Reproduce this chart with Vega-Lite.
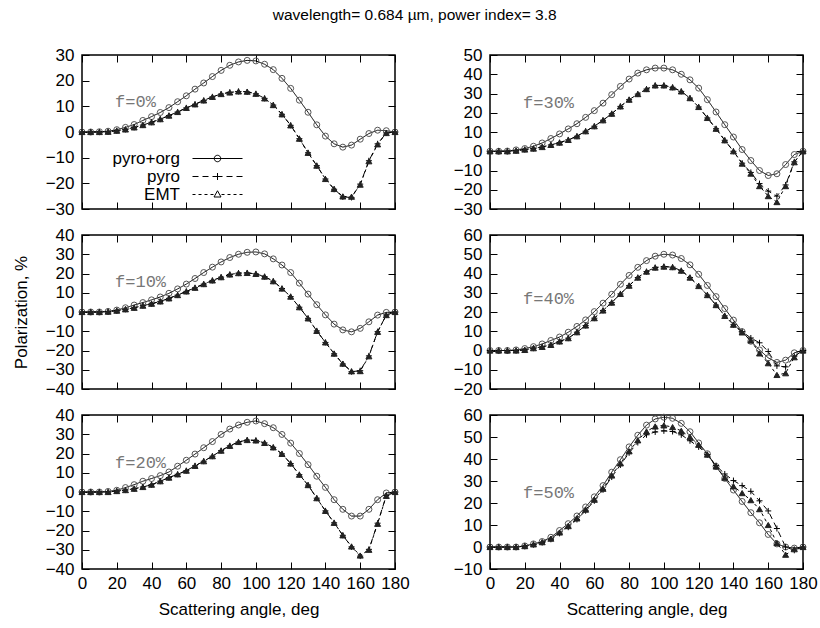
{
"$schema": "https://vega.github.io/schema/vega-lite/v6.json",
"padding": {"left": 11, "top": 7, "right": 5, "bottom": 5},
"title": {"text": "wavelength= 0.684 µm, power index= 3.8"},
"datasets": {
"lab": [{"f":0,"a":19,"v":11.6,"t":"f=0%"},{"f":10,"a":19,"v":15.4,"t":"f=10%"},{"f":20,"a":19,"v":15.3,"t":"f=20%"},{"f":30,"a":19,"v":24.9,"t":"f=30%"},{"f":40,"a":19,"v":27,"t":"f=40%"},{"f":50,"a":19,"v":24.7,"t":"f=50%"}],
"pol": [
{"f":0,"s":"o","a":0,"v":0},{"f":0,"s":"o","a":5,"v":0},{"f":0,"s":"o","a":10,"v":0.1},{"f":0,"s":"o","a":15,"v":0.3},{"f":0,"s":"o","a":20,"v":0.9},{"f":0,"s":"o","a":25,"v":1.8},{"f":0,"s":"o","a":30,"v":2.9},{"f":0,"s":"o","a":35,"v":4.5},{"f":0,"s":"o","a":40,"v":6.0},{"f":0,"s":"o","a":45,"v":7.6},{"f":0,"s":"o","a":50,"v":9.5},{"f":0,"s":"o","a":55,"v":11.8},{"f":0,"s":"o","a":60,"v":14.1},{"f":0,"s":"o","a":65,"v":16.7},{"f":0,"s":"o","a":70,"v":19.1},{"f":0,"s":"o","a":75,"v":21.6},{"f":0,"s":"o","a":80,"v":24.0},{"f":0,"s":"o","a":85,"v":26.0},{"f":0,"s":"o","a":90,"v":27.3},{"f":0,"s":"o","a":95,"v":27.9},{"f":0,"s":"o","a":100,"v":27.7},{"f":0,"s":"o","a":105,"v":26.4},{"f":0,"s":"o","a":110,"v":24.3},{"f":0,"s":"o","a":115,"v":20.9},{"f":0,"s":"o","a":120,"v":17.0},{"f":0,"s":"o","a":125,"v":12.4},{"f":0,"s":"o","a":130,"v":7.7},{"f":0,"s":"o","a":135,"v":2.8},{"f":0,"s":"o","a":140,"v":-1.6},{"f":0,"s":"o","a":145,"v":-4.6},{"f":0,"s":"o","a":150,"v":-5.9},{"f":0,"s":"o","a":155,"v":-5.1},{"f":0,"s":"o","a":160,"v":-2.8},{"f":0,"s":"o","a":165,"v":-0.6},{"f":0,"s":"o","a":170,"v":0.7},{"f":0,"s":"o","a":175,"v":0.5},{"f":0,"s":"o","a":180,"v":0},
{"f":0,"s":"p","a":0,"v":0},{"f":0,"s":"p","a":5,"v":0},{"f":0,"s":"p","a":10,"v":0},{"f":0,"s":"p","a":15,"v":0.1},{"f":0,"s":"p","a":20,"v":0.5},{"f":0,"s":"p","a":25,"v":1.0},{"f":0,"s":"p","a":30,"v":1.8},{"f":0,"s":"p","a":35,"v":2.7},{"f":0,"s":"p","a":40,"v":3.8},{"f":0,"s":"p","a":45,"v":5.0},{"f":0,"s":"p","a":50,"v":6.4},{"f":0,"s":"p","a":55,"v":7.8},{"f":0,"s":"p","a":60,"v":9.4},{"f":0,"s":"p","a":65,"v":10.8},{"f":0,"s":"p","a":70,"v":12.3},{"f":0,"s":"p","a":75,"v":13.7},{"f":0,"s":"p","a":80,"v":14.8},{"f":0,"s":"p","a":85,"v":15.5},{"f":0,"s":"p","a":90,"v":15.8},{"f":0,"s":"p","a":95,"v":15.6},{"f":0,"s":"p","a":100,"v":14.9},{"f":0,"s":"p","a":105,"v":13.1},{"f":0,"s":"p","a":110,"v":10.5},{"f":0,"s":"p","a":115,"v":6.9},{"f":0,"s":"p","a":120,"v":2.6},{"f":0,"s":"p","a":125,"v":-2.6},{"f":0,"s":"p","a":130,"v":-8.1},{"f":0,"s":"p","a":135,"v":-13.1},{"f":0,"s":"p","a":140,"v":-18.3},{"f":0,"s":"p","a":145,"v":-22.3},{"f":0,"s":"p","a":150,"v":-25.3},{"f":0,"s":"p","a":155,"v":-25.5},{"f":0,"s":"p","a":160,"v":-20.3},{"f":0,"s":"p","a":165,"v":-11.2},{"f":0,"s":"p","a":170,"v":-4.6},{"f":0,"s":"p","a":175,"v":-0.4},{"f":0,"s":"p","a":180,"v":0},
{"f":0,"s":"e","a":0,"v":0},{"f":0,"s":"e","a":5,"v":0},{"f":0,"s":"e","a":10,"v":0},{"f":0,"s":"e","a":15,"v":0.1},{"f":0,"s":"e","a":20,"v":0.5},{"f":0,"s":"e","a":25,"v":1.0},{"f":0,"s":"e","a":30,"v":1.8},{"f":0,"s":"e","a":35,"v":2.7},{"f":0,"s":"e","a":40,"v":3.8},{"f":0,"s":"e","a":45,"v":5.0},{"f":0,"s":"e","a":50,"v":6.4},{"f":0,"s":"e","a":55,"v":7.8},{"f":0,"s":"e","a":60,"v":9.4},{"f":0,"s":"e","a":65,"v":10.8},{"f":0,"s":"e","a":70,"v":12.3},{"f":0,"s":"e","a":75,"v":13.7},{"f":0,"s":"e","a":80,"v":14.8},{"f":0,"s":"e","a":85,"v":15.4},{"f":0,"s":"e","a":90,"v":15.8},{"f":0,"s":"e","a":95,"v":15.7},{"f":0,"s":"e","a":100,"v":14.9},{"f":0,"s":"e","a":105,"v":13.1},{"f":0,"s":"e","a":110,"v":10.5},{"f":0,"s":"e","a":115,"v":6.9},{"f":0,"s":"e","a":120,"v":2.6},{"f":0,"s":"e","a":125,"v":-2.6},{"f":0,"s":"e","a":130,"v":-8.1},{"f":0,"s":"e","a":135,"v":-13.1},{"f":0,"s":"e","a":140,"v":-18.3},{"f":0,"s":"e","a":145,"v":-22.2},{"f":0,"s":"e","a":150,"v":-25.1},{"f":0,"s":"e","a":155,"v":-25.2},{"f":0,"s":"e","a":160,"v":-20.5},{"f":0,"s":"e","a":165,"v":-11.4},{"f":0,"s":"e","a":170,"v":-4.8},{"f":0,"s":"e","a":175,"v":-0.4},{"f":0,"s":"e","a":180,"v":0},
{"f":10,"s":"o","a":0,"v":0},{"f":10,"s":"o","a":5,"v":0},{"f":10,"s":"o","a":10,"v":0},{"f":10,"s":"o","a":15,"v":0.3},{"f":10,"s":"o","a":20,"v":1.0},{"f":10,"s":"o","a":25,"v":2.2},{"f":10,"s":"o","a":30,"v":3.6},{"f":10,"s":"o","a":35,"v":4.9},{"f":10,"s":"o","a":40,"v":6.3},{"f":10,"s":"o","a":45,"v":7.8},{"f":10,"s":"o","a":50,"v":9.7},{"f":10,"s":"o","a":55,"v":12.0},{"f":10,"s":"o","a":60,"v":14.5},{"f":10,"s":"o","a":65,"v":17.4},{"f":10,"s":"o","a":70,"v":20.5},{"f":10,"s":"o","a":75,"v":23.3},{"f":10,"s":"o","a":80,"v":26.0},{"f":10,"s":"o","a":85,"v":28.3},{"f":10,"s":"o","a":90,"v":30.0},{"f":10,"s":"o","a":95,"v":31.0},{"f":10,"s":"o","a":100,"v":31.2},{"f":10,"s":"o","a":105,"v":30.2},{"f":10,"s":"o","a":110,"v":27.6},{"f":10,"s":"o","a":115,"v":24.4},{"f":10,"s":"o","a":120,"v":20.5},{"f":10,"s":"o","a":125,"v":15.0},{"f":10,"s":"o","a":130,"v":9.3},{"f":10,"s":"o","a":135,"v":3.8},{"f":10,"s":"o","a":140,"v":-1.5},{"f":10,"s":"o","a":145,"v":-6.3},{"f":10,"s":"o","a":150,"v":-9.3},{"f":10,"s":"o","a":155,"v":-10.3},{"f":10,"s":"o","a":160,"v":-8.5},{"f":10,"s":"o","a":165,"v":-5.1},{"f":10,"s":"o","a":170,"v":-1.6},{"f":10,"s":"o","a":175,"v":-0.2},{"f":10,"s":"o","a":180,"v":0},
{"f":10,"s":"p","a":0,"v":0},{"f":10,"s":"p","a":5,"v":0},{"f":10,"s":"p","a":10,"v":0},{"f":10,"s":"p","a":15,"v":0.2},{"f":10,"s":"p","a":20,"v":0.7},{"f":10,"s":"p","a":25,"v":1.4},{"f":10,"s":"p","a":30,"v":2.2},{"f":10,"s":"p","a":35,"v":3.3},{"f":10,"s":"p","a":40,"v":4.3},{"f":10,"s":"p","a":45,"v":5.5},{"f":10,"s":"p","a":50,"v":7.1},{"f":10,"s":"p","a":55,"v":8.8},{"f":10,"s":"p","a":60,"v":10.7},{"f":10,"s":"p","a":65,"v":12.6},{"f":10,"s":"p","a":70,"v":14.5},{"f":10,"s":"p","a":75,"v":16.4},{"f":10,"s":"p","a":80,"v":18.1},{"f":10,"s":"p","a":85,"v":19.5},{"f":10,"s":"p","a":90,"v":20.2},{"f":10,"s":"p","a":95,"v":20.3},{"f":10,"s":"p","a":100,"v":19.8},{"f":10,"s":"p","a":105,"v":18.4},{"f":10,"s":"p","a":110,"v":16.0},{"f":10,"s":"p","a":115,"v":12.2},{"f":10,"s":"p","a":120,"v":8.0},{"f":10,"s":"p","a":125,"v":2.5},{"f":10,"s":"p","a":130,"v":-3.3},{"f":10,"s":"p","a":135,"v":-9.8},{"f":10,"s":"p","a":140,"v":-15.8},{"f":10,"s":"p","a":145,"v":-21.7},{"f":10,"s":"p","a":150,"v":-27.0},{"f":10,"s":"p","a":155,"v":-31.0},{"f":10,"s":"p","a":160,"v":-30.5},{"f":10,"s":"p","a":165,"v":-22.8},{"f":10,"s":"p","a":170,"v":-10.2},{"f":10,"s":"p","a":175,"v":-1.6},{"f":10,"s":"p","a":180,"v":0},
{"f":10,"s":"e","a":0,"v":0},{"f":10,"s":"e","a":5,"v":0},{"f":10,"s":"e","a":10,"v":0},{"f":10,"s":"e","a":15,"v":0.2},{"f":10,"s":"e","a":20,"v":0.7},{"f":10,"s":"e","a":25,"v":1.4},{"f":10,"s":"e","a":30,"v":2.2},{"f":10,"s":"e","a":35,"v":3.3},{"f":10,"s":"e","a":40,"v":4.3},{"f":10,"s":"e","a":45,"v":5.5},{"f":10,"s":"e","a":50,"v":7.1},{"f":10,"s":"e","a":55,"v":8.8},{"f":10,"s":"e","a":60,"v":10.7},{"f":10,"s":"e","a":65,"v":12.6},{"f":10,"s":"e","a":70,"v":14.5},{"f":10,"s":"e","a":75,"v":16.4},{"f":10,"s":"e","a":80,"v":18.1},{"f":10,"s":"e","a":85,"v":19.5},{"f":10,"s":"e","a":90,"v":20.2},{"f":10,"s":"e","a":95,"v":20.3},{"f":10,"s":"e","a":100,"v":19.8},{"f":10,"s":"e","a":105,"v":18.4},{"f":10,"s":"e","a":110,"v":16.0},{"f":10,"s":"e","a":115,"v":12.2},{"f":10,"s":"e","a":120,"v":8.0},{"f":10,"s":"e","a":125,"v":2.5},{"f":10,"s":"e","a":130,"v":-3.3},{"f":10,"s":"e","a":135,"v":-9.8},{"f":10,"s":"e","a":140,"v":-15.8},{"f":10,"s":"e","a":145,"v":-21.6},{"f":10,"s":"e","a":150,"v":-26.8},{"f":10,"s":"e","a":155,"v":-30.8},{"f":10,"s":"e","a":160,"v":-30.7},{"f":10,"s":"e","a":165,"v":-23.0},{"f":10,"s":"e","a":170,"v":-10.3},{"f":10,"s":"e","a":175,"v":-1.6},{"f":10,"s":"e","a":180,"v":0},
{"f":20,"s":"o","a":0,"v":0},{"f":20,"s":"o","a":5,"v":0},{"f":20,"s":"o","a":10,"v":0},{"f":20,"s":"o","a":15,"v":0.3},{"f":20,"s":"o","a":20,"v":0.9},{"f":20,"s":"o","a":25,"v":2.3},{"f":20,"s":"o","a":30,"v":3.8},{"f":20,"s":"o","a":35,"v":5.6},{"f":20,"s":"o","a":40,"v":7.0},{"f":20,"s":"o","a":45,"v":8.5},{"f":20,"s":"o","a":50,"v":10.4},{"f":20,"s":"o","a":55,"v":13.4},{"f":20,"s":"o","a":60,"v":16.5},{"f":20,"s":"o","a":65,"v":19.7},{"f":20,"s":"o","a":70,"v":23.0},{"f":20,"s":"o","a":75,"v":26.2},{"f":20,"s":"o","a":80,"v":29.9},{"f":20,"s":"o","a":85,"v":32.7},{"f":20,"s":"o","a":90,"v":34.8},{"f":20,"s":"o","a":95,"v":36.2},{"f":20,"s":"o","a":100,"v":36.9},{"f":20,"s":"o","a":105,"v":35.5},{"f":20,"s":"o","a":110,"v":33.4},{"f":20,"s":"o","a":115,"v":29.9},{"f":20,"s":"o","a":120,"v":25.4},{"f":20,"s":"o","a":125,"v":20.0},{"f":20,"s":"o","a":130,"v":14.2},{"f":20,"s":"o","a":135,"v":8.2},{"f":20,"s":"o","a":140,"v":2.4},{"f":20,"s":"o","a":145,"v":-4.0},{"f":20,"s":"o","a":150,"v":-9.0},{"f":20,"s":"o","a":155,"v":-12.5},{"f":20,"s":"o","a":160,"v":-12.5},{"f":20,"s":"o","a":165,"v":-9.0},{"f":20,"s":"o","a":170,"v":-4.0},{"f":20,"s":"o","a":175,"v":-0.5},{"f":20,"s":"o","a":180,"v":0},
{"f":20,"s":"p","a":0,"v":0},{"f":20,"s":"p","a":5,"v":0},{"f":20,"s":"p","a":10,"v":0},{"f":20,"s":"p","a":15,"v":0},{"f":20,"s":"p","a":20,"v":0.5},{"f":20,"s":"p","a":25,"v":1.0},{"f":20,"s":"p","a":30,"v":1.7},{"f":20,"s":"p","a":35,"v":2.6},{"f":20,"s":"p","a":40,"v":3.8},{"f":20,"s":"p","a":45,"v":5.6},{"f":20,"s":"p","a":50,"v":7.5},{"f":20,"s":"p","a":55,"v":9.2},{"f":20,"s":"p","a":60,"v":11.1},{"f":20,"s":"p","a":65,"v":13.6},{"f":20,"s":"p","a":70,"v":16.0},{"f":20,"s":"p","a":75,"v":18.6},{"f":20,"s":"p","a":80,"v":21.5},{"f":20,"s":"p","a":85,"v":24.0},{"f":20,"s":"p","a":90,"v":26.0},{"f":20,"s":"p","a":95,"v":27.0},{"f":20,"s":"p","a":100,"v":26.8},{"f":20,"s":"p","a":105,"v":25.5},{"f":20,"s":"p","a":110,"v":23.2},{"f":20,"s":"p","a":115,"v":19.8},{"f":20,"s":"p","a":120,"v":14.8},{"f":20,"s":"p","a":125,"v":9.0},{"f":20,"s":"p","a":130,"v":3.6},{"f":20,"s":"p","a":135,"v":-3.2},{"f":20,"s":"p","a":140,"v":-9.8},{"f":20,"s":"p","a":145,"v":-16.0},{"f":20,"s":"p","a":150,"v":-22.5},{"f":20,"s":"p","a":155,"v":-28.5},{"f":20,"s":"p","a":160,"v":-33.3},{"f":20,"s":"p","a":165,"v":-29.8},{"f":20,"s":"p","a":170,"v":-16.2},{"f":20,"s":"p","a":175,"v":-1.8},{"f":20,"s":"p","a":180,"v":0},
{"f":20,"s":"e","a":0,"v":0},{"f":20,"s":"e","a":5,"v":0},{"f":20,"s":"e","a":10,"v":0},{"f":20,"s":"e","a":15,"v":0},{"f":20,"s":"e","a":20,"v":0.5},{"f":20,"s":"e","a":25,"v":1.0},{"f":20,"s":"e","a":30,"v":1.7},{"f":20,"s":"e","a":35,"v":2.6},{"f":20,"s":"e","a":40,"v":3.8},{"f":20,"s":"e","a":45,"v":5.6},{"f":20,"s":"e","a":50,"v":7.5},{"f":20,"s":"e","a":55,"v":9.2},{"f":20,"s":"e","a":60,"v":11.1},{"f":20,"s":"e","a":65,"v":13.6},{"f":20,"s":"e","a":70,"v":16.0},{"f":20,"s":"e","a":75,"v":18.6},{"f":20,"s":"e","a":80,"v":21.5},{"f":20,"s":"e","a":85,"v":24.0},{"f":20,"s":"e","a":90,"v":26.0},{"f":20,"s":"e","a":95,"v":27.0},{"f":20,"s":"e","a":100,"v":26.8},{"f":20,"s":"e","a":105,"v":25.5},{"f":20,"s":"e","a":110,"v":23.2},{"f":20,"s":"e","a":115,"v":19.8},{"f":20,"s":"e","a":120,"v":14.8},{"f":20,"s":"e","a":125,"v":9.0},{"f":20,"s":"e","a":130,"v":3.6},{"f":20,"s":"e","a":135,"v":-3.2},{"f":20,"s":"e","a":140,"v":-9.8},{"f":20,"s":"e","a":145,"v":-16.0},{"f":20,"s":"e","a":150,"v":-22.5},{"f":20,"s":"e","a":155,"v":-28.3},{"f":20,"s":"e","a":160,"v":-33.0},{"f":20,"s":"e","a":165,"v":-30.0},{"f":20,"s":"e","a":170,"v":-16.5},{"f":20,"s":"e","a":175,"v":-2.0},{"f":20,"s":"e","a":180,"v":0},
{"f":30,"s":"o","a":0,"v":0},{"f":30,"s":"o","a":5,"v":0},{"f":30,"s":"o","a":10,"v":0.1},{"f":30,"s":"o","a":15,"v":0.7},{"f":30,"s":"o","a":20,"v":1.4},{"f":30,"s":"o","a":25,"v":2.6},{"f":30,"s":"o","a":30,"v":4.3},{"f":30,"s":"o","a":35,"v":6.6},{"f":30,"s":"o","a":40,"v":9.0},{"f":30,"s":"o","a":45,"v":11.6},{"f":30,"s":"o","a":50,"v":14.3},{"f":30,"s":"o","a":55,"v":17.6},{"f":30,"s":"o","a":60,"v":21.1},{"f":30,"s":"o","a":65,"v":25.0},{"f":30,"s":"o","a":70,"v":29.4},{"f":30,"s":"o","a":75,"v":33.7},{"f":30,"s":"o","a":80,"v":37.5},{"f":30,"s":"o","a":85,"v":40.6},{"f":30,"s":"o","a":90,"v":42.3},{"f":30,"s":"o","a":95,"v":43.2},{"f":30,"s":"o","a":100,"v":43.2},{"f":30,"s":"o","a":105,"v":42.3},{"f":30,"s":"o","a":110,"v":40.0},{"f":30,"s":"o","a":115,"v":37.1},{"f":30,"s":"o","a":120,"v":32.8},{"f":30,"s":"o","a":125,"v":26.8},{"f":30,"s":"o","a":130,"v":20.4},{"f":30,"s":"o","a":135,"v":13.8},{"f":30,"s":"o","a":140,"v":7.4},{"f":30,"s":"o","a":145,"v":0.9},{"f":30,"s":"o","a":150,"v":-4.8},{"f":30,"s":"o","a":155,"v":-10.0},{"f":30,"s":"o","a":160,"v":-12.6},{"f":30,"s":"o","a":165,"v":-11.7},{"f":30,"s":"o","a":170,"v":-6.9},{"f":30,"s":"o","a":175,"v":-1.7},{"f":30,"s":"o","a":180,"v":0},
{"f":30,"s":"p","a":0,"v":0},{"f":30,"s":"p","a":5,"v":0},{"f":30,"s":"p","a":10,"v":0},{"f":30,"s":"p","a":15,"v":0.3},{"f":30,"s":"p","a":20,"v":0.9},{"f":30,"s":"p","a":25,"v":1.4},{"f":30,"s":"p","a":30,"v":2.2},{"f":30,"s":"p","a":35,"v":3.3},{"f":30,"s":"p","a":40,"v":4.5},{"f":30,"s":"p","a":45,"v":5.9},{"f":30,"s":"p","a":50,"v":7.8},{"f":30,"s":"p","a":55,"v":10.4},{"f":30,"s":"p","a":60,"v":13.0},{"f":30,"s":"p","a":65,"v":16.1},{"f":30,"s":"p","a":70,"v":19.5},{"f":30,"s":"p","a":75,"v":23.3},{"f":30,"s":"p","a":80,"v":26.8},{"f":30,"s":"p","a":85,"v":29.7},{"f":30,"s":"p","a":90,"v":32.3},{"f":30,"s":"p","a":95,"v":34.2},{"f":30,"s":"p","a":100,"v":34.2},{"f":30,"s":"p","a":105,"v":33.2},{"f":30,"s":"p","a":110,"v":31.1},{"f":30,"s":"p","a":115,"v":27.6},{"f":30,"s":"p","a":120,"v":23.0},{"f":30,"s":"p","a":125,"v":17.3},{"f":30,"s":"p","a":130,"v":11.7},{"f":30,"s":"p","a":135,"v":5.7},{"f":30,"s":"p","a":140,"v":0.0},{"f":30,"s":"p","a":145,"v":-6.2},{"f":30,"s":"p","a":150,"v":-11.0},{"f":30,"s":"p","a":155,"v":-16.8},{"f":30,"s":"p","a":160,"v":-20.7},{"f":30,"s":"p","a":165,"v":-23.3},{"f":30,"s":"p","a":170,"v":-17.5},{"f":30,"s":"p","a":175,"v":-5.5},{"f":30,"s":"p","a":180,"v":0},
{"f":30,"s":"e","a":0,"v":0},{"f":30,"s":"e","a":5,"v":0},{"f":30,"s":"e","a":10,"v":0},{"f":30,"s":"e","a":15,"v":0.3},{"f":30,"s":"e","a":20,"v":0.9},{"f":30,"s":"e","a":25,"v":1.4},{"f":30,"s":"e","a":30,"v":2.2},{"f":30,"s":"e","a":35,"v":3.3},{"f":30,"s":"e","a":40,"v":4.5},{"f":30,"s":"e","a":45,"v":5.9},{"f":30,"s":"e","a":50,"v":7.8},{"f":30,"s":"e","a":55,"v":10.4},{"f":30,"s":"e","a":60,"v":13.0},{"f":30,"s":"e","a":65,"v":16.1},{"f":30,"s":"e","a":70,"v":19.5},{"f":30,"s":"e","a":75,"v":23.3},{"f":30,"s":"e","a":80,"v":26.8},{"f":30,"s":"e","a":85,"v":29.7},{"f":30,"s":"e","a":90,"v":32.3},{"f":30,"s":"e","a":95,"v":34.2},{"f":30,"s":"e","a":100,"v":34.2},{"f":30,"s":"e","a":105,"v":33.2},{"f":30,"s":"e","a":110,"v":31.1},{"f":30,"s":"e","a":115,"v":27.6},{"f":30,"s":"e","a":120,"v":23.0},{"f":30,"s":"e","a":125,"v":17.3},{"f":30,"s":"e","a":130,"v":11.7},{"f":30,"s":"e","a":135,"v":5.7},{"f":30,"s":"e","a":140,"v":0.0},{"f":30,"s":"e","a":145,"v":-6.4},{"f":30,"s":"e","a":150,"v":-11.6},{"f":30,"s":"e","a":155,"v":-18.1},{"f":30,"s":"e","a":160,"v":-23.3},{"f":30,"s":"e","a":165,"v":-26.4},{"f":30,"s":"e","a":170,"v":-18.1},{"f":30,"s":"e","a":175,"v":-5.7},{"f":30,"s":"e","a":180,"v":0},
{"f":40,"s":"o","a":0,"v":0},{"f":40,"s":"o","a":5,"v":0},{"f":40,"s":"o","a":10,"v":0},{"f":40,"s":"o","a":15,"v":0.3},{"f":40,"s":"o","a":20,"v":1.0},{"f":40,"s":"o","a":25,"v":2.0},{"f":40,"s":"o","a":30,"v":3.4},{"f":40,"s":"o","a":35,"v":5.2},{"f":40,"s":"o","a":40,"v":7.0},{"f":40,"s":"o","a":45,"v":9.5},{"f":40,"s":"o","a":50,"v":12.5},{"f":40,"s":"o","a":55,"v":15.9},{"f":40,"s":"o","a":60,"v":20.2},{"f":40,"s":"o","a":65,"v":24.6},{"f":40,"s":"o","a":70,"v":29.2},{"f":40,"s":"o","a":75,"v":34.4},{"f":40,"s":"o","a":80,"v":39.0},{"f":40,"s":"o","a":85,"v":43.2},{"f":40,"s":"o","a":90,"v":46.7},{"f":40,"s":"o","a":95,"v":49.0},{"f":40,"s":"o","a":100,"v":50.0},{"f":40,"s":"o","a":105,"v":49.6},{"f":40,"s":"o","a":110,"v":47.8},{"f":40,"s":"o","a":115,"v":44.5},{"f":40,"s":"o","a":120,"v":39.6},{"f":40,"s":"o","a":125,"v":33.8},{"f":40,"s":"o","a":130,"v":28.0},{"f":40,"s":"o","a":135,"v":21.8},{"f":40,"s":"o","a":140,"v":15.8},{"f":40,"s":"o","a":145,"v":9.8},{"f":40,"s":"o","a":150,"v":4.8},{"f":40,"s":"o","a":155,"v":0.3},{"f":40,"s":"o","a":160,"v":-3.8},{"f":40,"s":"o","a":165,"v":-6.2},{"f":40,"s":"o","a":170,"v":-5.0},{"f":40,"s":"o","a":175,"v":-1.2},{"f":40,"s":"o","a":180,"v":0},
{"f":40,"s":"p","a":0,"v":0},{"f":40,"s":"p","a":5,"v":0},{"f":40,"s":"p","a":10,"v":0},{"f":40,"s":"p","a":15,"v":0},{"f":40,"s":"p","a":20,"v":0.3},{"f":40,"s":"p","a":25,"v":1.2},{"f":40,"s":"p","a":30,"v":1.9},{"f":40,"s":"p","a":35,"v":2.9},{"f":40,"s":"p","a":40,"v":4.7},{"f":40,"s":"p","a":45,"v":6.4},{"f":40,"s":"p","a":50,"v":9.5},{"f":40,"s":"p","a":55,"v":13.0},{"f":40,"s":"p","a":60,"v":16.8},{"f":40,"s":"p","a":65,"v":20.8},{"f":40,"s":"p","a":70,"v":24.9},{"f":40,"s":"p","a":75,"v":29.4},{"f":40,"s":"p","a":80,"v":33.7},{"f":40,"s":"p","a":85,"v":37.9},{"f":40,"s":"p","a":90,"v":41.0},{"f":40,"s":"p","a":95,"v":43.1},{"f":40,"s":"p","a":100,"v":43.6},{"f":40,"s":"p","a":105,"v":43.3},{"f":40,"s":"p","a":110,"v":41.5},{"f":40,"s":"p","a":115,"v":37.9},{"f":40,"s":"p","a":120,"v":33.5},{"f":40,"s":"p","a":125,"v":28.8},{"f":40,"s":"p","a":130,"v":23.6},{"f":40,"s":"p","a":135,"v":18.0},{"f":40,"s":"p","a":140,"v":13.4},{"f":40,"s":"p","a":145,"v":9.8},{"f":40,"s":"p","a":150,"v":6.5},{"f":40,"s":"p","a":155,"v":4.0},{"f":40,"s":"p","a":160,"v":-0.5},{"f":40,"s":"p","a":165,"v":-8.0},{"f":40,"s":"p","a":170,"v":-8.5},{"f":40,"s":"p","a":175,"v":-3.0},{"f":40,"s":"p","a":180,"v":0},
{"f":40,"s":"e","a":0,"v":0},{"f":40,"s":"e","a":5,"v":0},{"f":40,"s":"e","a":10,"v":0},{"f":40,"s":"e","a":15,"v":0},{"f":40,"s":"e","a":20,"v":0.3},{"f":40,"s":"e","a":25,"v":1.2},{"f":40,"s":"e","a":30,"v":1.9},{"f":40,"s":"e","a":35,"v":2.9},{"f":40,"s":"e","a":40,"v":4.7},{"f":40,"s":"e","a":45,"v":6.4},{"f":40,"s":"e","a":50,"v":9.5},{"f":40,"s":"e","a":55,"v":13.0},{"f":40,"s":"e","a":60,"v":16.8},{"f":40,"s":"e","a":65,"v":20.8},{"f":40,"s":"e","a":70,"v":24.9},{"f":40,"s":"e","a":75,"v":29.4},{"f":40,"s":"e","a":80,"v":33.7},{"f":40,"s":"e","a":85,"v":37.9},{"f":40,"s":"e","a":90,"v":41.0},{"f":40,"s":"e","a":95,"v":43.1},{"f":40,"s":"e","a":100,"v":43.6},{"f":40,"s":"e","a":105,"v":43.3},{"f":40,"s":"e","a":110,"v":41.5},{"f":40,"s":"e","a":115,"v":37.9},{"f":40,"s":"e","a":120,"v":33.5},{"f":40,"s":"e","a":125,"v":28.8},{"f":40,"s":"e","a":130,"v":23.6},{"f":40,"s":"e","a":135,"v":18.0},{"f":40,"s":"e","a":140,"v":13.4},{"f":40,"s":"e","a":145,"v":9.4},{"f":40,"s":"e","a":150,"v":5.2},{"f":40,"s":"e","a":155,"v":-1.5},{"f":40,"s":"e","a":160,"v":-6.6},{"f":40,"s":"e","a":165,"v":-12.7},{"f":40,"s":"e","a":170,"v":-11.8},{"f":40,"s":"e","a":175,"v":-3.5},{"f":40,"s":"e","a":180,"v":0},
{"f":50,"s":"o","a":0,"v":0},{"f":50,"s":"o","a":5,"v":0},{"f":50,"s":"o","a":10,"v":0},{"f":50,"s":"o","a":15,"v":0},{"f":50,"s":"o","a":20,"v":0.5},{"f":50,"s":"o","a":25,"v":1.4},{"f":50,"s":"o","a":30,"v":2.5},{"f":50,"s":"o","a":35,"v":4.4},{"f":50,"s":"o","a":40,"v":7.5},{"f":50,"s":"o","a":45,"v":10.6},{"f":50,"s":"o","a":50,"v":14.1},{"f":50,"s":"o","a":55,"v":18.2},{"f":50,"s":"o","a":60,"v":22.8},{"f":50,"s":"o","a":65,"v":27.9},{"f":50,"s":"o","a":70,"v":34.0},{"f":50,"s":"o","a":75,"v":39.7},{"f":50,"s":"o","a":80,"v":45.5},{"f":50,"s":"o","a":85,"v":50.8},{"f":50,"s":"o","a":90,"v":55.4},{"f":50,"s":"o","a":95,"v":58.2},{"f":50,"s":"o","a":100,"v":59.0},{"f":50,"s":"o","a":105,"v":58.5},{"f":50,"s":"o","a":110,"v":56.2},{"f":50,"s":"o","a":115,"v":52.4},{"f":50,"s":"o","a":120,"v":47.3},{"f":50,"s":"o","a":125,"v":42.4},{"f":50,"s":"o","a":130,"v":36.6},{"f":50,"s":"o","a":135,"v":31.2},{"f":50,"s":"o","a":140,"v":25.9},{"f":50,"s":"o","a":145,"v":20.7},{"f":50,"s":"o","a":150,"v":15.6},{"f":50,"s":"o","a":155,"v":11.0},{"f":50,"s":"o","a":160,"v":5.7},{"f":50,"s":"o","a":165,"v":1.4},{"f":50,"s":"o","a":170,"v":0},{"f":50,"s":"o","a":175,"v":-0.5},{"f":50,"s":"o","a":180,"v":0},
{"f":50,"s":"p","a":0,"v":0},{"f":50,"s":"p","a":5,"v":0},{"f":50,"s":"p","a":10,"v":0},{"f":50,"s":"p","a":15,"v":0},{"f":50,"s":"p","a":20,"v":0.4},{"f":50,"s":"p","a":25,"v":1.1},{"f":50,"s":"p","a":30,"v":2.0},{"f":50,"s":"p","a":35,"v":3.5},{"f":50,"s":"p","a":40,"v":6.2},{"f":50,"s":"p","a":45,"v":9.0},{"f":50,"s":"p","a":50,"v":12.5},{"f":50,"s":"p","a":55,"v":16.5},{"f":50,"s":"p","a":60,"v":21.0},{"f":50,"s":"p","a":65,"v":26.0},{"f":50,"s":"p","a":70,"v":31.8},{"f":50,"s":"p","a":75,"v":37.3},{"f":50,"s":"p","a":80,"v":42.8},{"f":50,"s":"p","a":85,"v":47.5},{"f":50,"s":"p","a":90,"v":51.0},{"f":50,"s":"p","a":95,"v":52.3},{"f":50,"s":"p","a":100,"v":52.8},{"f":50,"s":"p","a":105,"v":52.5},{"f":50,"s":"p","a":110,"v":51.0},{"f":50,"s":"p","a":115,"v":48.3},{"f":50,"s":"p","a":120,"v":45.5},{"f":50,"s":"p","a":125,"v":42.0},{"f":50,"s":"p","a":130,"v":37.0},{"f":50,"s":"p","a":135,"v":33.2},{"f":50,"s":"p","a":140,"v":30.2},{"f":50,"s":"p","a":145,"v":27.9},{"f":50,"s":"p","a":150,"v":25.3},{"f":50,"s":"p","a":155,"v":21.0},{"f":50,"s":"p","a":160,"v":16.4},{"f":50,"s":"p","a":165,"v":8.4},{"f":50,"s":"p","a":170,"v":0.0},{"f":50,"s":"p","a":175,"v":-1.5},{"f":50,"s":"p","a":180,"v":0},
{"f":50,"s":"e","a":0,"v":0},{"f":50,"s":"e","a":5,"v":0},{"f":50,"s":"e","a":10,"v":0},{"f":50,"s":"e","a":15,"v":0},{"f":50,"s":"e","a":20,"v":0.4},{"f":50,"s":"e","a":25,"v":1.2},{"f":50,"s":"e","a":30,"v":2.2},{"f":50,"s":"e","a":35,"v":3.8},{"f":50,"s":"e","a":40,"v":6.6},{"f":50,"s":"e","a":45,"v":9.5},{"f":50,"s":"e","a":50,"v":13.0},{"f":50,"s":"e","a":55,"v":17.0},{"f":50,"s":"e","a":60,"v":21.5},{"f":50,"s":"e","a":65,"v":26.5},{"f":50,"s":"e","a":70,"v":32.5},{"f":50,"s":"e","a":75,"v":38.0},{"f":50,"s":"e","a":80,"v":43.5},{"f":50,"s":"e","a":85,"v":48.5},{"f":50,"s":"e","a":90,"v":52.5},{"f":50,"s":"e","a":95,"v":54.8},{"f":50,"s":"e","a":100,"v":55.3},{"f":50,"s":"e","a":105,"v":54.5},{"f":50,"s":"e","a":110,"v":52.8},{"f":50,"s":"e","a":115,"v":50.0},{"f":50,"s":"e","a":120,"v":46.5},{"f":50,"s":"e","a":125,"v":42.0},{"f":50,"s":"e","a":130,"v":36.6},{"f":50,"s":"e","a":135,"v":31.5},{"f":50,"s":"e","a":140,"v":27.6},{"f":50,"s":"e","a":145,"v":24.5},{"f":50,"s":"e","a":150,"v":21.3},{"f":50,"s":"e","a":155,"v":17.2},{"f":50,"s":"e","a":160,"v":10.0},{"f":50,"s":"e","a":165,"v":1.8},{"f":50,"s":"e","a":170,"v":-3.5},{"f":50,"s":"e","a":175,"v":-1.0},{"f":50,"s":"e","a":180,"v":0}
]},
"columns": 2,
"spacing": {"row": 26, "column": 95},
"bounds": "flush",
"concat": [
{"width": 313, "height": 154, "layer": [
 {"data": {"name": "pol"}, "transform": [{"filter": "datum.f == 0"}], "mark": {"type": "line", "color": "#000", "strokeWidth": 1},
  "encoding": {"x": {"field": "a", "type": "quantitative", "scale": {"domain": [0,180], "nice": false}, "axis": {"values": [0,20,40,60,80,100,120,140,160,180], "labels": false, "title": null}},
   "y": {"field": "v", "type": "quantitative", "scale": {"domain": [-30,30], "nice": false, "zero": false}, "axis": {"values": [-30,-20,-10,0,10,20,30], "title": null}},
   "strokeDash": {"field": "s", "type": "nominal", "scale": {"domain": ["o","p","e"], "range": [[1,0],[6,4],[3,3]]}, "legend": null}}},
 {"data": {"name": "pol"}, "transform": [{"filter": "datum.f == 0"}], "mark": {"type": "point", "size": 36, "strokeWidth": 1, "opacity": 1},
  "encoding": {"x": {"field": "a", "type": "quantitative", "axis": null}, "y": {"field": "v", "type": "quantitative", "axis": null},
   "shape": {"field": "s", "type": "nominal", "scale": {"domain": ["o","p","e"], "range": ["circle", "M-1,0H1M0,-1V1", "triangle-up"]}, "legend": null},
   "fill": {"field": "s", "type": "nominal", "scale": {"domain": ["o","p","e"], "range": ["transparent","transparent","#222"]}, "legend": null},
   "stroke": {"field": "s", "type": "nominal", "scale": {"domain": ["o","p","e"], "range": ["#555","#000","#222"]}, "legend": null}}},
 {"data": {"name": "pol"}, "transform": [{"filter": "datum.f == 0 && datum.a < 0"}], "mark": {"type": "point", "size": 100, "strokeWidth": 1, "opacity": 1, "filled": false, "color": "#000"},
  "encoding": {"x": {"field": "a", "type": "quantitative", "axis": null}, "y": {"field": "v", "type": "quantitative", "axis": null},
   "shape": {"field": "lg", "type": "nominal", "scale": {"domain": ["pyro+org","pyro","EMT"], "range": [
     "M-5,0H5M-0.65,0A0.65,0.65,0,1,1,0.65,0A0.65,0.65,0,1,1,-0.65,0",
     "M-5,0H-3.8M-3,0H-1.8M-1,0H1M1.8,0H3M3.8,0H5M0,-0.7V0.7",
     "M-5,0H-4.4M-3.8,0H-3.2M-2.6,0H-2M-1.4,0H-0.8M0.8,0H1.4M2,0H2.6M3.2,0H3.8M4.4,0H5M0,-0.75L0.7,0.5L-0.7,0.5Z"]},
    "legend": {"orient": "none", "legendX": 127, "legendY": 95, "title": null, "padding": 0, "rowPadding": 0, "symbolSize": 100, "symbolStrokeWidth": 1, "symbolStrokeColor": "#000", "symbolFillColor": "transparent", "symbolOpacity": 1, "labelAlign": "right", "labelBaseline": "middle", "labelOffset": -46, "labelFont": "Liberation Sans", "labelFontSize": 17, "labelColor": "#000", "labelLimit": 0}}}},
 {"data": {"name": "lab"}, "transform": [{"filter": "datum.f == 0"}], "mark": {"type": "text", "align": "left", "baseline": "middle", "font": "Liberation Mono", "fontSize": 17, "color": "#777"},
  "encoding": {"x": {"field": "a", "type": "quantitative", "axis": {"orient": "top", "values": [0,20,40,60,80,100,120,140,160,180], "labels": false, "title": null}},
   "y": {"field": "v", "type": "quantitative", "axis": {"orient": "right", "values": [-30,-20,-10,0,10,20,30], "labels": false, "title": null}},
   "text": {"field": "t"}}}
], "resolve": {"axis": {"x": "independent", "y": "independent"}, "scale": {"shape": "independent"}}},
{"width": 313, "height": 154, "layer": [
 {"data": {"name": "pol"}, "transform": [{"filter": "datum.f == 30"}], "mark": {"type": "line", "color": "#000", "strokeWidth": 1},
  "encoding": {"x": {"field": "a", "type": "quantitative", "scale": {"domain": [0,180], "nice": false}, "axis": {"values": [0,20,40,60,80,100,120,140,160,180], "labels": false, "title": null}},
   "y": {"field": "v", "type": "quantitative", "scale": {"domain": [-30,50], "nice": false, "zero": false}, "axis": {"values": [-30,-20,-10,0,10,20,30,40,50], "title": null}},
   "strokeDash": {"field": "s", "type": "nominal", "scale": {"domain": ["o","p","e"], "range": [[1,0],[6,4],[3,3]]}, "legend": null}}},
 {"data": {"name": "pol"}, "transform": [{"filter": "datum.f == 30"}], "mark": {"type": "point", "size": 36, "strokeWidth": 1, "opacity": 1},
  "encoding": {"x": {"field": "a", "type": "quantitative", "axis": null}, "y": {"field": "v", "type": "quantitative", "axis": null},
   "shape": {"field": "s", "type": "nominal", "scale": {"domain": ["o","p","e"], "range": ["circle", "M-1,0H1M0,-1V1", "triangle-up"]}, "legend": null},
   "fill": {"field": "s", "type": "nominal", "scale": {"domain": ["o","p","e"], "range": ["transparent","transparent","#222"]}, "legend": null},
   "stroke": {"field": "s", "type": "nominal", "scale": {"domain": ["o","p","e"], "range": ["#555","#000","#222"]}, "legend": null}}},
 {"data": {"name": "lab"}, "transform": [{"filter": "datum.f == 30"}], "mark": {"type": "text", "align": "left", "baseline": "middle", "font": "Liberation Mono", "fontSize": 17, "color": "#777"},
  "encoding": {"x": {"field": "a", "type": "quantitative", "axis": {"orient": "top", "values": [0,20,40,60,80,100,120,140,160,180], "labels": false, "title": null}},
   "y": {"field": "v", "type": "quantitative", "axis": {"orient": "right", "values": [-30,-20,-10,0,10,20,30,40,50], "labels": false, "title": null}},
   "text": {"field": "t"}}}
], "resolve": {"axis": {"x": "independent", "y": "independent"}}},
{"width": 313, "height": 154, "layer": [
 {"data": {"name": "pol"}, "transform": [{"filter": "datum.f == 10"}], "mark": {"type": "line", "color": "#000", "strokeWidth": 1},
  "encoding": {"x": {"field": "a", "type": "quantitative", "scale": {"domain": [0,180], "nice": false}, "axis": {"values": [0,20,40,60,80,100,120,140,160,180], "labels": false, "title": null}},
   "y": {"field": "v", "type": "quantitative", "scale": {"domain": [-40,40], "nice": false, "zero": false}, "axis": {"values": [-40,-30,-20,-10,0,10,20,30,40], "title": "Polarization, %"}},
   "strokeDash": {"field": "s", "type": "nominal", "scale": {"domain": ["o","p","e"], "range": [[1,0],[6,4],[3,3]]}, "legend": null}}},
 {"data": {"name": "pol"}, "transform": [{"filter": "datum.f == 10"}], "mark": {"type": "point", "size": 36, "strokeWidth": 1, "opacity": 1},
  "encoding": {"x": {"field": "a", "type": "quantitative", "axis": null}, "y": {"field": "v", "type": "quantitative", "axis": null},
   "shape": {"field": "s", "type": "nominal", "scale": {"domain": ["o","p","e"], "range": ["circle", "M-1,0H1M0,-1V1", "triangle-up"]}, "legend": null},
   "fill": {"field": "s", "type": "nominal", "scale": {"domain": ["o","p","e"], "range": ["transparent","transparent","#222"]}, "legend": null},
   "stroke": {"field": "s", "type": "nominal", "scale": {"domain": ["o","p","e"], "range": ["#555","#000","#222"]}, "legend": null}}},
 {"data": {"name": "lab"}, "transform": [{"filter": "datum.f == 10"}], "mark": {"type": "text", "align": "left", "baseline": "middle", "font": "Liberation Mono", "fontSize": 17, "color": "#777"},
  "encoding": {"x": {"field": "a", "type": "quantitative", "axis": {"orient": "top", "values": [0,20,40,60,80,100,120,140,160,180], "labels": false, "title": null}},
   "y": {"field": "v", "type": "quantitative", "axis": {"orient": "right", "values": [-40,-30,-20,-10,0,10,20,30,40], "labels": false, "title": null}},
   "text": {"field": "t"}}}
], "resolve": {"axis": {"x": "independent", "y": "independent"}}},
{"width": 313, "height": 154, "layer": [
 {"data": {"name": "pol"}, "transform": [{"filter": "datum.f == 40"}], "mark": {"type": "line", "color": "#000", "strokeWidth": 1},
  "encoding": {"x": {"field": "a", "type": "quantitative", "scale": {"domain": [0,180], "nice": false}, "axis": {"values": [0,20,40,60,80,100,120,140,160,180], "labels": false, "title": null}},
   "y": {"field": "v", "type": "quantitative", "scale": {"domain": [-20,60], "nice": false, "zero": false}, "axis": {"values": [-20,-10,0,10,20,30,40,50,60], "title": null}},
   "strokeDash": {"field": "s", "type": "nominal", "scale": {"domain": ["o","p","e"], "range": [[1,0],[6,4],[3,3]]}, "legend": null}}},
 {"data": {"name": "pol"}, "transform": [{"filter": "datum.f == 40"}], "mark": {"type": "point", "size": 36, "strokeWidth": 1, "opacity": 1},
  "encoding": {"x": {"field": "a", "type": "quantitative", "axis": null}, "y": {"field": "v", "type": "quantitative", "axis": null},
   "shape": {"field": "s", "type": "nominal", "scale": {"domain": ["o","p","e"], "range": ["circle", "M-1,0H1M0,-1V1", "triangle-up"]}, "legend": null},
   "fill": {"field": "s", "type": "nominal", "scale": {"domain": ["o","p","e"], "range": ["transparent","transparent","#222"]}, "legend": null},
   "stroke": {"field": "s", "type": "nominal", "scale": {"domain": ["o","p","e"], "range": ["#555","#000","#222"]}, "legend": null}}},
 {"data": {"name": "lab"}, "transform": [{"filter": "datum.f == 40"}], "mark": {"type": "text", "align": "left", "baseline": "middle", "font": "Liberation Mono", "fontSize": 17, "color": "#777"},
  "encoding": {"x": {"field": "a", "type": "quantitative", "axis": {"orient": "top", "values": [0,20,40,60,80,100,120,140,160,180], "labels": false, "title": null}},
   "y": {"field": "v", "type": "quantitative", "axis": {"orient": "right", "values": [-20,-10,0,10,20,30,40,50,60], "labels": false, "title": null}},
   "text": {"field": "t"}}}
], "resolve": {"axis": {"x": "independent", "y": "independent"}}},
{"width": 313, "height": 154, "layer": [
 {"data": {"name": "pol"}, "transform": [{"filter": "datum.f == 20"}], "mark": {"type": "line", "color": "#000", "strokeWidth": 1},
  "encoding": {"x": {"field": "a", "type": "quantitative", "scale": {"domain": [0,180], "nice": false}, "axis": {"values": [0,20,40,60,80,100,120,140,160,180], "title": "Scattering angle, deg"}},
   "y": {"field": "v", "type": "quantitative", "scale": {"domain": [-40,40], "nice": false, "zero": false}, "axis": {"values": [-40,-30,-20,-10,0,10,20,30,40], "title": null}},
   "strokeDash": {"field": "s", "type": "nominal", "scale": {"domain": ["o","p","e"], "range": [[1,0],[6,4],[3,3]]}, "legend": null}}},
 {"data": {"name": "pol"}, "transform": [{"filter": "datum.f == 20"}], "mark": {"type": "point", "size": 36, "strokeWidth": 1, "opacity": 1},
  "encoding": {"x": {"field": "a", "type": "quantitative", "axis": null}, "y": {"field": "v", "type": "quantitative", "axis": null},
   "shape": {"field": "s", "type": "nominal", "scale": {"domain": ["o","p","e"], "range": ["circle", "M-1,0H1M0,-1V1", "triangle-up"]}, "legend": null},
   "fill": {"field": "s", "type": "nominal", "scale": {"domain": ["o","p","e"], "range": ["transparent","transparent","#222"]}, "legend": null},
   "stroke": {"field": "s", "type": "nominal", "scale": {"domain": ["o","p","e"], "range": ["#555","#000","#222"]}, "legend": null}}},
 {"data": {"name": "lab"}, "transform": [{"filter": "datum.f == 20"}], "mark": {"type": "text", "align": "left", "baseline": "middle", "font": "Liberation Mono", "fontSize": 17, "color": "#777"},
  "encoding": {"x": {"field": "a", "type": "quantitative", "axis": {"orient": "top", "values": [0,20,40,60,80,100,120,140,160,180], "labels": false, "title": null}},
   "y": {"field": "v", "type": "quantitative", "axis": {"orient": "right", "values": [-40,-30,-20,-10,0,10,20,30,40], "labels": false, "title": null}},
   "text": {"field": "t"}}}
], "resolve": {"axis": {"x": "independent", "y": "independent"}}},
{"width": 313, "height": 154, "layer": [
 {"data": {"name": "pol"}, "transform": [{"filter": "datum.f == 50"}], "mark": {"type": "line", "color": "#000", "strokeWidth": 1},
  "encoding": {"x": {"field": "a", "type": "quantitative", "scale": {"domain": [0,180], "nice": false}, "axis": {"values": [0,20,40,60,80,100,120,140,160,180], "title": "Scattering angle, deg"}},
   "y": {"field": "v", "type": "quantitative", "scale": {"domain": [-10,60], "nice": false, "zero": false}, "axis": {"values": [-10,0,10,20,30,40,50,60], "title": null}},
   "strokeDash": {"field": "s", "type": "nominal", "scale": {"domain": ["o","p","e"], "range": [[1,0],[6,4],[3,3]]}, "legend": null}}},
 {"data": {"name": "pol"}, "transform": [{"filter": "datum.f == 50"}], "mark": {"type": "point", "size": 36, "strokeWidth": 1, "opacity": 1},
  "encoding": {"x": {"field": "a", "type": "quantitative", "axis": null}, "y": {"field": "v", "type": "quantitative", "axis": null},
   "shape": {"field": "s", "type": "nominal", "scale": {"domain": ["o","p","e"], "range": ["circle", "M-1,0H1M0,-1V1", "triangle-up"]}, "legend": null},
   "fill": {"field": "s", "type": "nominal", "scale": {"domain": ["o","p","e"], "range": ["transparent","transparent","#222"]}, "legend": null},
   "stroke": {"field": "s", "type": "nominal", "scale": {"domain": ["o","p","e"], "range": ["#555","#000","#222"]}, "legend": null}}},
 {"data": {"name": "lab"}, "transform": [{"filter": "datum.f == 50"}], "mark": {"type": "text", "align": "left", "baseline": "middle", "font": "Liberation Mono", "fontSize": 17, "color": "#777"},
  "encoding": {"x": {"field": "a", "type": "quantitative", "axis": {"orient": "top", "values": [0,20,40,60,80,100,120,140,160,180], "labels": false, "title": null}},
   "y": {"field": "v", "type": "quantitative", "axis": {"orient": "right", "values": [-10,0,10,20,30,40,50,60], "labels": false, "title": null}},
   "text": {"field": "t"}}}
], "resolve": {"axis": {"x": "independent", "y": "independent"}}}
],
"resolve": {"scale": {"x": "independent", "y": "independent", "strokeDash": "independent", "shape": "independent", "fill": "independent", "stroke": "independent"}},
"config": {
 "font": "Liberation Sans",
 "view": {"stroke": "#000", "strokeWidth": 1.5},
 "axis": {"domain": false, "grid": false, "ticks": true, "tickColor": "#000", "tickWidth": 1, "tickSize": -7, "labelFont": "Liberation Sans", "labelFontSize": 17, "labelColor": "#000", "labelPadding": 15, "labelFlush": false, "labelOverlap": false, "titleFont": "Liberation Sans", "titleFontSize": 17, "titleFontWeight": "normal", "titleColor": "#000"},
 "axisBottom": {"labelPadding": 13, "titlePadding": 10},
 "axisLeft": {"titlePadding": 15},
 "title": {"font": "Liberation Sans", "fontSize": 15.5, "fontWeight": "normal", "color": "#000", "offset": 22, "anchor": "middle"}
}
}
